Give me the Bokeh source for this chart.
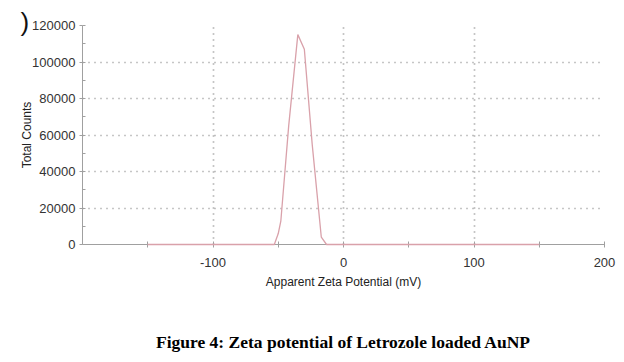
from bokeh.plotting import figure
from bokeh.models import (Range1d, FixedTicker, SingleIntervalTicker, Title,
                          PrintfTickFormatter, LinearAxis)
from bokeh.embed import file_html
from bokeh.resources import INLINE

# Data
zeta_mv = [-150, -55, -53, -50, -48, -42, -35, -30, -24, -17, -13, 0, 150]
counts = [0, 0, 0, 6000, 13000, 65000, 115000, 107000, 55000, 4000, 0, 0, 0]

x_major_ticks = [-100, 0, 100, 200]
x_minor_ticks = [-150, -50, 50, 150]
caption = "Figure 4: Zeta potential of Letrozole loaded AuNP"

FONT = "Liberation Sans"

p = figure(width=616, height=354, output_backend="svg", toolbar_location=None,
           x_range=Range1d(-200, 200), y_range=Range1d(0, 120000),
           min_border_left=82, min_border_right=12, min_border_top=25,
           min_border_bottom=109)
p.outline_line_color = None
p.background_fill_color = "white"
p.border_fill_color = "white"

p.line(zeta_mv, counts, line_color="#d9a1aa", line_width=1.3, level="overlay")

# axes
p.xaxis.ticker = FixedTicker(ticks=x_major_ticks, minor_ticks=x_minor_ticks)
p.yaxis.ticker = SingleIntervalTicker(interval=20000, num_minor_ticks=2)
p.xaxis.formatter = PrintfTickFormatter(format="%d")
p.yaxis.formatter = PrintfTickFormatter(format="%d")
for ax in (p.xaxis, p.yaxis):
    ax.axis_line_color = "#a0a0a0"
    ax.major_tick_line_color = "#a0a0a0"
    ax.minor_tick_line_color = "#a0a0a0"
    ax.major_label_text_font = FONT
    ax.major_label_text_font_size = "13px"
    ax.major_label_text_color = "#333333"
    ax.axis_label_text_font = FONT
    ax.axis_label_text_font_size = "12px"
    ax.axis_label_text_font_style = "normal"
    ax.axis_label_text_color = "#222222"
p.xaxis.major_tick_in = 3
p.xaxis.major_tick_out = 3
p.xaxis.minor_tick_in = 3
p.xaxis.minor_tick_out = 3
p.yaxis.major_tick_in = 0
p.yaxis.major_tick_out = 3
p.yaxis.minor_tick_in = 3
p.yaxis.minor_tick_out = 0
p.xaxis.major_label_standoff = 10
p.yaxis.major_label_standoff = 4
p.xaxis.axis_label = "Apparent Zeta Potential (mV)"
p.yaxis.axis_label = "Total Counts"
p.xaxis.axis_label_standoff = 5
p.yaxis.axis_label_standoff = -5

# grid
p.xgrid.ticker = FixedTicker(ticks=x_major_ticks)
for g in (p.xgrid, p.ygrid):
    g.grid_line_color = "#8c8c8c"
    g.grid_line_dash = "1 5"
    g.grid_line_width = 1.7

# caption below, as the label of a bare extra axis
cap_axis = LinearAxis(ticker=FixedTicker(ticks=[]), axis_line_color=None,
                      major_tick_line_color=None, minor_tick_line_color=None,
                      major_tick_in=0, major_tick_out=0, minor_tick_in=0,
                      minor_tick_out=0, major_label_standoff=0,
                      axis_label=caption, axis_label_standoff=40,
                      axis_label_text_font="Liberation Serif",
                      axis_label_text_font_size="17.5px",
                      axis_label_text_font_style="bold",
                      axis_label_text_color="#000000")
p.add_layout(cap_axis, "below")

# stray bracket at top-left of the scan
p.add_layout(Title(text=")", align="left", offset=-62, standoff=-22,
                   text_font=FONT, text_font_size="26px", text_font_style="normal",
                   text_color="#111111"), "above")

open("out.html", "w").write(file_html(p, INLINE))
